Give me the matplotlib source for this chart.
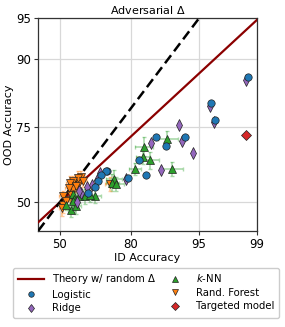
from statistics import NormalDist

import matplotlib
matplotlib.use("Agg")
import matplotlib.pyplot as plt
import numpy as np

# Values (percent)
logistic_x = [98.7, 96.3, 96.7, 93.1, 89.6, 87.3, 82.6, 84.7, 79.0, 71.3, 70.8, 68.8, 67.4, 66.0, 63.0]
logistic_y = [86.8, 81.2, 76.9, 71.9, 69.3, 71.9, 64.7, 59.8, 58.6, 61.2, 61.0, 59.8, 57.6, 55.3, 53.2]

ridge_x = [98.6, 96.2, 96.6, 92.0, 92.5, 94.2, 85.9, 88.5, 78.4, 68.4, 66.8, 65.0, 62.5, 60.0, 59.2, 58.3]
ridge_y = [86.3, 80.6, 76.3, 75.4, 70.9, 67.0, 70.2, 61.5, 58.3, 60.3, 57.8, 56.3, 55.5, 53.5, 54.2, 50.3]

knn_x = [89.8, 83.9, 83.7, 85.8, 81.2, 90.7, 73.8, 73.3, 74.8, 66.0, 61.5, 56.4, 56.9, 56.4, 55.4, 57.7, 53.0, 63.8, 59.2]
knn_y = [71.4, 69.1, 65.9, 64.6, 61.7, 61.7, 58.4, 56.9, 56.5, 52.4, 52.1, 53.1, 51.3, 50.4, 47.4, 48.8, 49.2, 52.7, 52.1]
knn_xerr = [2.0, 2.5, 2.0, 2.2, 1.8, 2.0, 3.0, 2.5, 2.8, 2.5, 2.2, 1.8, 2.0, 1.8, 1.6, 2.0, 1.5, 2.4, 2.0]
knn_yerr = [2.5, 3.0, 2.5, 2.8, 2.2, 2.5, 3.0, 3.0, 2.5, 2.5, 2.8, 2.0, 2.5, 2.2, 2.5, 2.8, 2.0, 2.5, 2.5]

rf_x = [53.0, 51.4, 55.4, 56.9, 58.9, 60.0, 58.4, 56.4, 54.6, 60.7, 51.4, 53.0, 55.4, 56.1, 57.7, 54.3, 72.5, 51.0]
rf_y = [51.0, 52.1, 54.2, 55.7, 56.9, 58.9, 58.6, 57.4, 56.9, 57.4, 49.2, 50.4, 52.7, 54.7, 55.9, 55.1, 56.5, 48.0]
rf_xerr = [1.5, 1.8, 2.0, 1.5, 2.0, 1.8, 1.5, 2.0, 1.5, 1.8, 1.5, 1.8, 1.5, 2.0, 1.5, 1.8, 2.0, 1.5]
rf_yerr = [2.5, 2.0, 2.5, 2.0, 2.5, 2.0, 2.5, 2.0, 2.5, 2.0, 3.0, 2.5, 2.0, 2.5, 2.0, 2.5, 2.5, 3.0]

targeted_x = [98.6]
targeted_y = [72.5]

theory_slope = 0.7

x_ticks = [50, 80, 95, 99]
y_ticks = [50, 75, 90, 95]

nd = NormalDist()
_ppf = np.vectorize(nd.inv_cdf, otypes=[float])
_cdf = np.vectorize(nd.cdf, otypes=[float])


def probit(p):
    p = np.clip(np.asarray(p, dtype=float) / 100.0, 1e-9, 1 - 1e-9)
    return _ppf(p)


def inv_probit(z):
    return _cdf(np.asarray(z, dtype=float)) * 100.0


plt.rcParams['font.family'] = 'DejaVu Sans'
fig = plt.figure(figsize=(2.85, 3.27), dpi=100)
ax = fig.add_axes([38.3 / 285, 1 - 230.7 / 327, 218.4 / 285, 212.4 / 327])
ax.set_xscale('function', functions=(probit, inv_probit))
ax.set_yscale('function', functions=(probit, inv_probit))

# theory and y=x
xs = np.linspace(40, 99, 200)
theory, = ax.plot(xs, inv_probit(theory_slope * probit(xs)), color='#8b0000', lw=1.6,
                  label=r'Theory w/ random $\Delta$', zorder=3)
ax.plot([40, 99], [40, 99], color='black', lw=1.8, ls=(0, (4, 2)), zorder=3)

ax.errorbar(knn_x, knn_y, xerr=knn_xerr, yerr=knn_yerr, fmt='none', ecolor='#2ca02c',
            alpha=0.4, elinewidth=1.2, capsize=1.5, zorder=2)
ax.errorbar(rf_x, rf_y, xerr=rf_xerr, yerr=rf_yerr, fmt='none', ecolor='#ff7f0e',
            alpha=0.4, elinewidth=1.2, capsize=1.5, zorder=2)

mk = dict(ls='none', mec='#222222', mew=0.5, zorder=4)
h_rf, = ax.plot(rf_x, rf_y, marker='v', ms=5.2, color='#ff7f0e', label='Rand. Forest', **mk)
h_knn, = ax.plot(knn_x, knn_y, marker='^', ms=5.2, color='#2ca02c', label='$k$-NN', **mk)
h_ridge, = ax.plot(ridge_x, ridge_y, marker='d', ms=5.8, color='#9467bd', label='Ridge', **mk)
h_log, = ax.plot(logistic_x, logistic_y, marker='o', ms=5.3, color='#1f77b4', label='Logistic', **mk)
h_tgt, = ax.plot(targeted_x, targeted_y, marker='D', ms=5, color='#d62728', label='Targeted model', **mk)

ax.set_xlim(40, 99)
ax.set_ylim(40, 95)
ax.set_xticks(x_ticks)
ax.set_xticklabels([str(t) for t in x_ticks])
ax.set_yticks(y_ticks)
ax.set_yticklabels([str(t) for t in y_ticks])
ax.minorticks_off()
ax.tick_params(labelsize=8.5, length=3, width=0.8, color='#333333', pad=2)
ax.grid(True, color='#d8d8d8', lw=0.9)
ax.set_axisbelow(True)
for s in ax.spines.values():
    s.set_color('#333333')
    s.set_linewidth(0.9)

ax.set_title(r'Adversarial $\Delta$', fontsize=8, pad=3)
ax.set_xlabel('ID Accuracy', fontsize=8, labelpad=2)
ax.set_ylabel('OOD Accuracy', fontsize=8, labelpad=2)

fig.legend(handles=[theory, h_log, h_ridge, h_knn, h_rf, h_tgt], ncol=2, loc='lower center',
           bbox_to_anchor=(0.513, 0.012), fontsize=7.3, markerscale=0.75, handlelength=2.6,
           handletextpad=0.8, columnspacing=0.5, labelspacing=0.35, borderpad=0.45,
           framealpha=1, edgecolor='#cccccc')

fig.savefig('out.png', dpi=100)
